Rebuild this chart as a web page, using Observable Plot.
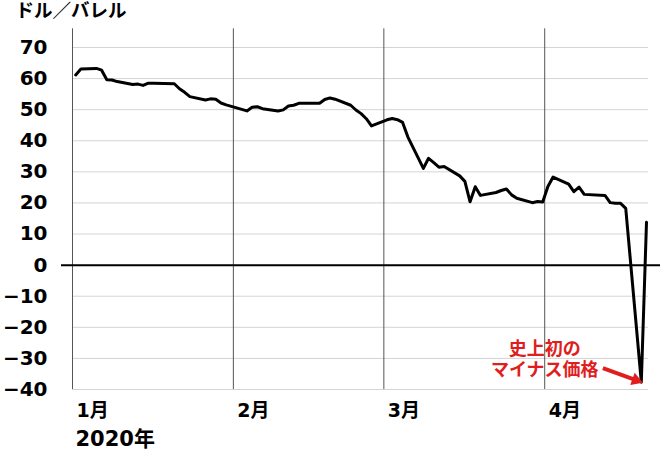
<!DOCTYPE html>
<html>
<head>
<meta charset="utf-8">
<script src="https://cdn.jsdelivr.net/npm/d3@7"></script>
<script src="https://cdn.jsdelivr.net/npm/@observablehq/plot@0.6"></script>
<style>
  body { margin: 0; background: #fff; }
  #chart svg { display: block; }
</style>
</head>
<body>
<div id="chart"></div>
<script>
// WTI crude oil price (USD/barrel), daily close, Jan–Apr 2020
const dates = [
  "2020-01-02","2020-01-03","2020-01-06","2020-01-07","2020-01-08","2020-01-09","2020-01-10",
  "2020-01-13","2020-01-14","2020-01-15","2020-01-16","2020-01-17","2020-01-21","2020-01-22",
  "2020-01-23","2020-01-24","2020-01-27","2020-01-28","2020-01-29","2020-01-30","2020-01-31",
  "2020-02-03","2020-02-04","2020-02-05","2020-02-06","2020-02-07","2020-02-10","2020-02-11",
  "2020-02-12","2020-02-13","2020-02-14","2020-02-18","2020-02-19","2020-02-20","2020-02-21",
  "2020-02-24","2020-02-25","2020-02-26","2020-02-27","2020-02-28",
  "2020-03-02","2020-03-03","2020-03-04","2020-03-05","2020-03-06","2020-03-09","2020-03-10",
  "2020-03-11","2020-03-12","2020-03-13","2020-03-16","2020-03-17","2020-03-18","2020-03-19",
  "2020-03-20","2020-03-23","2020-03-24","2020-03-25","2020-03-26","2020-03-27","2020-03-30",
  "2020-03-31",
  "2020-04-01","2020-04-02","2020-04-03","2020-04-06","2020-04-07","2020-04-08","2020-04-09",
  "2020-04-13","2020-04-14","2020-04-15","2020-04-16","2020-04-17","2020-04-20","2020-04-21"
];
const prices = [
  61.18, 63.05, 63.27, 62.70, 59.61, 59.56, 59.04,
  58.08, 58.23, 57.81, 58.52, 58.54, 58.34, 56.74,
  55.59, 54.19, 53.14, 53.48, 53.33, 52.14, 51.56,
  50.11, 49.61, 50.75, 50.95, 50.32, 49.57, 49.94,
  51.17, 51.42, 52.05, 52.05, 53.29, 53.78, 53.38,
  51.43, 49.90, 48.73, 47.09, 44.76,
  46.75, 47.18, 46.78, 45.90, 41.28, 31.13, 34.36,
  32.98, 31.50, 31.73, 28.70, 26.95, 20.37, 25.22,
  22.43, 23.36, 24.01, 24.49, 22.60, 21.51, 20.09,
  20.48,
  20.31, 25.32, 28.34, 26.08, 23.63, 25.09, 22.76,
  22.41, 20.11, 19.87, 19.87, 18.27, -37.63, 13.8
];
const yTicks = [-40, -30, -20, -10, 0, 10, 20, 30, 40, 50, 60, 70];
const monthTicks = ["2020-01-01", "2020-02-01", "2020-03-01", "2020-04-01"];
const monthLabels = ["1月", "2月", "3月", "4月"];
const yearLabel = ["2020年"];
const unitLabel = ["ドル／バレル"];
const noteText = ["史上初の\nマイナス価格"];

const series = dates.map((d, i) => ({date: new Date(d), price: prices[i]}));
const months = monthTicks.map(d => new Date(d));
const RED = "#e01e1e";
const FONT = "'DejaVu Sans', 'Noto Sans CJK JP', sans-serif";

// annotation arrow (shaft start, head centre)
const arrowStart = {x: new Date("2020-04-12T05:00Z"), y: -33.1};
const arrowHead = {x: new Date("2020-04-18T14:00Z"), y: -37.0};

const chart = Plot.plot({
  width: 660,
  height: 452,
  marginLeft: 72,
  marginRight: 12,
  marginTop: 47,
  marginBottom: 63,
  style: {fontFamily: FONT, background: "#fff", color: "#000"},
  x: {type: "utc", domain: [new Date("2020-01-01"), new Date("2020-04-21")]},
  y: {domain: [-40, 70]},
  marks: [
    // horizontal gridlines
    Plot.ruleY(yTicks.filter(v => v !== 0), {stroke: "#d4d4d4", strokeWidth: 1}),
    // month separators
    Plot.ruleX(months, {y1: 76, y2: -40, stroke: "#555", strokeWidth: 1}),
    // zero line
    Plot.ruleY([0], {stroke: "#000", strokeWidth: 2, insetLeft: -11, insetRight: -12}),
    // axes
    Plot.axisY(yTicks, {
      tickSize: 0, tickPadding: 25, fontSize: 20, fontWeight: "bold",
      label: null, fill: "#000"
    }),
    Plot.axisX(months, {
      tickSize: 0, tickPadding: 14, fontSize: 19, fontWeight: "bold",
      textAnchor: "start", dx: 4, label: null, fill: "#000",
      tickFormat: d => monthLabels[d.getUTCMonth()]
    }),
    Plot.text(yearLabel, {
      x: [months[0]], frameAnchor: "bottom", dy: 50, dx: 3,
      textAnchor: "start", lineAnchor: "middle",
      fontSize: 21, fontWeight: "bold", fill: "#000"
    }),
    Plot.text(unitLabel, {
      frameAnchor: "top-left", dx: -57, dy: -36,
      textAnchor: "start", lineAnchor: "middle",
      fontSize: 18.5, fontWeight: "bold", fill: "#000"
    }),
    // price line
    Plot.line(series, {x: "date", y: "price", stroke: "#000", strokeWidth: 3, dx: -2}),
    // annotation
    Plot.text(noteText, {
      x: [new Date("2020-04-01")], y: [-30],
      textAnchor: "middle", lineAnchor: "middle", lineHeight: 1.18,
      fontSize: 18, fontWeight: "bold", fill: RED
    }),
    Plot.link([arrowStart], {
      x1: "x", y1: "y", x2: () => arrowHead.x, y2: () => arrowHead.y,
      stroke: RED, strokeWidth: 4
    }),
    Plot.dot([arrowHead], {
      x: "x", y: "y", symbol: "triangle", r: 4.8, rotate: 110,
      fill: RED, stroke: "none"
    })
  ]
});
document.getElementById("chart").appendChild(chart);
</script>
</body>
</html>
